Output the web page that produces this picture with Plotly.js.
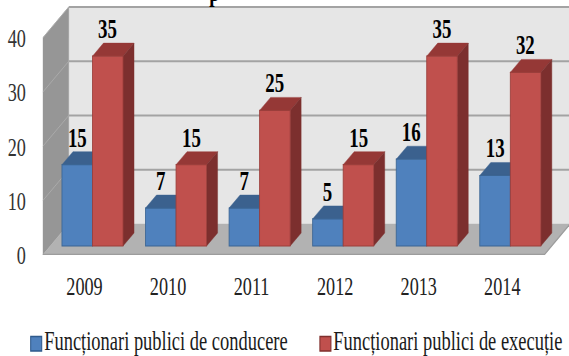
<!DOCTYPE html>
<html>
<head>
<meta charset="utf-8">
<script src="https://cdn.plot.ly/plotly-3.0.1.min.js"></script>
<style>
html,body{margin:0;padding:0;background:#fff;width:569px;height:356px;overflow:hidden}
#chart{transform-origin:0 0}
</style>
</head>
<body>
<div id="chart"></div>
<script>
const years = ['2009','2010','2011','2012','2013','2014'];
const conducere = [15,7,7,5,16,13];
const executie = [35,15,25,15,35,32];
const seriesNames = ['Funcționari publici de conducere','Funcționari publici de execuție'];
const yTicks = [0,10,20,30,40];

// The reference is a horizontally squeezed image: lay out wide, then squeeze.
const SX = 0.70;
const PW = 569, PH = 356;
const L = 43, B = 255;
const UX = 83.5, UY = 5.425;          // px per category / per value unit
const W = PW / SX;
const xMin = -0.5, xMax = -0.5 + (PW - L) / UX;
const yMax = B / UY;
const px = p => p / UX, py = p => p / UY;

const wallDX = px(26), wallDY = py(31);      // depth of the chart box
const frontDX = px(8), frontDY = py(9);      // where the bars' front face sits
const barDX = px(11), barDY = py(13);        // depth of one bar
const barW = px(30.5);

const xs = years.map((_, i) => i + frontDX);
const gridC = '#a3a3a3';

const poly = (pts, fill, line, lw) => ({
  type:'path', xref:'x', yref:'y', layer:'below',
  path:'M' + pts.map(p => p[0] + ',' + p[1]).join('L') + 'Z',
  fillcolor:fill, line:{color:line||fill, width:lw===undefined?0.5:lw}
});
const seg = (a, b, c, w) => ({type:'line', xref:'x', yref:'y', layer:'below',
  x0:a[0], y0:a[1], x1:b[0], y1:b[1], line:{color:c, width:w}});

const shapes = [];
const x0 = xMin, x1 = xMin + years.length;
// back wall, left wall, floor
shapes.push(poly([[x0+wallDX,wallDY],[x1+wallDX,wallDY],[x1+wallDX,40+wallDY],[x0+wallDX,40+wallDY]], '#e6e6e6'));
shapes.push(poly([[x0,0],[x0+wallDX,wallDY],[x0+wallDX,40+wallDY],[x0,40]], '#969696'));
shapes.push(poly([[x0,0],[x1,0],[x1+wallDX,wallDY],[x0+wallDX,wallDY]], '#b2b2b2'));
// gridlines on both walls
yTicks.forEach(v => {
  if (v > 0) shapes.push(seg([x0+wallDX,v+wallDY],[x1+wallDX,v+wallDY], gridC, 2));
  if (v > 0) shapes.push(seg([x0,v],[x0+wallDX,v+wallDY], '#adadad', 1));
});
shapes.push(seg([x0,0],[x1,0], '#9c9c9c', 2.5));
shapes.push(seg([x1,0],[x1+wallDX,wallDY], '#9c9c9c', 1.5));

// depth faces of the bars, computed from the values
function faces(vals, off, topC, sideC) {
  vals.forEach((v, i) => {
    const a = xs[i] + off, b = a + barW, t = frontDY + v, f = frontDY;
    shapes.push(poly([[a,t],[b,t],[b+barDX,t+barDY],[a+barDX,t+barDY]], topC));
    shapes.push(poly([[b,f],[b+barDX,f+barDY],[b+barDX,t+barDY],[b,t]], sideC));
  });
}
faces(conducere, -barW, '#3b618e', '#2f4d72');
faces(executie, 0, '#953836', '#7c2f2e');

const paperX = p => (p - L) / (PW - L);
const paperY = p => (B - p) / B;

// legend swatches
[[31,42,'#4f81bd','#2f5a8c'],[320,331,'#c0504d','#7f2f2d']].forEach(s => {
  shapes.push({type:'rect', xref:'paper', yref:'paper', x0:paperX(s[0]), x1:paperX(s[1]),
    y0:paperY(336.5), y1:paperY(351), fillcolor:s[2], line:{color:s[3], width:1.5}});
});

const serif = 'Liberation Serif, Times New Roman, serif';
const annotations = [];
function labels(vals, off) {
  vals.forEach((v, i) => annotations.push({
    x: xs[i] + off, y: frontDY + v, xref:'x', yref:'y', text:String(v), showarrow:false,
    xanchor:'center', yanchor:'middle', yshift:27,
    font:{family:serif, size:27, color:'#000', weight:'bold'}
  }));
}
labels(conducere, -barW/2);
labels(executie, barW/2);

[[44.5,seriesNames[0]],[333,seriesNames[1]]].forEach(a => annotations.push({
  x:paperX(a[0]), y:paperY(340.5), xref:'paper', yref:'paper', text:a[1], showarrow:false,
  xanchor:'left', yanchor:'middle', xshift:-2, font:{family:serif, size:26.4, color:'#1a1a1a'}
}));
// clipped remainder of the cut-off title
annotations.push({x:paperX(214.5), y:paperY(-8), xref:'paper', yref:'paper', text:'p', showarrow:false,
  xanchor:'center', yanchor:'middle', font:{family:serif, size:27, color:'#000', weight:'bold'}});

const trace = (vals, name, fill, edge, off) => ({
  type:'bar', x:xs, y:vals, base:frontDY, name:name, width:barW, offset:off,
  marker:{color:fill, line:{color:edge, width:1.2}}, hoverinfo:'skip', cliponaxis:false
});

const data = [
  trace(conducere, seriesNames[0], '#4f81bd', '#3b6593', -barW),
  trace(executie, seriesNames[1], '#c0504d', '#9b3e3b', 0)
];

const layout = {
  width:W, height:PH, showlegend:false, barmode:'overlay',
  paper_bgcolor:'#fff', plot_bgcolor:'rgba(0,0,0,0)',
  margin:{l:L/SX, r:0, t:0, b:PH-B, pad:0},
  font:{family:serif},
  xaxis:{type:'linear', range:[xMin,xMax], tickmode:'array', tickvals:years.map((_,i)=>i), ticktext:years,
    showgrid:false, zeroline:false, showline:false, ticks:'', ticklabelstandoff:13,
    tickfont:{family:serif, size:26, color:'#222'}},
  yaxis:{type:'linear', range:[0,yMax], tickmode:'array', tickvals:yTicks, ticktext:yTicks.map(String),
    showgrid:false, zeroline:false, showline:false, ticks:'', ticklabelstandoff:23,
    tickfont:{family:serif, size:26, color:'#333'}},
  shapes:shapes, annotations:annotations
};

const el = document.getElementById('chart');
el.style.width = W + 'px';
el.style.height = PH + 'px';
el.style.transform = 'scaleX(' + SX + ')';
Plotly.newPlot(el, data, layout, {displayModeBar:false, responsive:false});
</script>
</body>
</html>
